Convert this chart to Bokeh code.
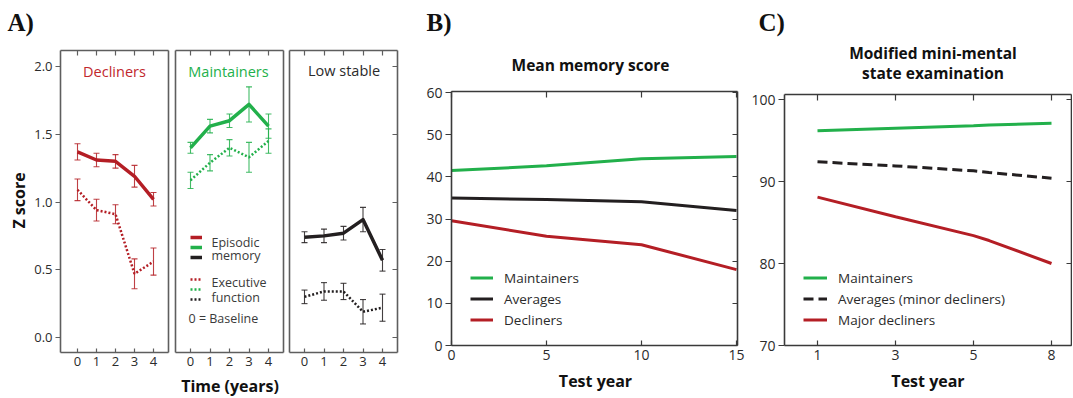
import math
from bokeh.plotting import figure
from bokeh.models import (ColumnDataSource, LinearAxis, FixedTicker, Whisker, TeeHead,
                          Label, Legend, LegendItem, Range1d)
from bokeh.embed import file_html
from bokeh.resources import INLINE

# ---------------- data ----------------
# Panel A: Z scores by time (years)
years_a = [0, 1, 2, 3, 4]
a_xtick_labels = ["0", "1", "2", "3", "4"]
a_yticks = [0.0, 0.5, 1.0, 1.5, 2.0]
a_ytick_labels = ["0.0", "0.5", "1.0", "1.5", "2.0"]
decl_mem = [1.37, 1.31, 1.30, 1.19, 1.02]
decl_mem_err = [0.06, 0.05, 0.05, 0.08, 0.05]
decl_exe = [1.09, 0.94, 0.91, 0.47, 0.56]
decl_exe_err = [0.08, 0.08, 0.07, 0.11, 0.10]
main_mem = [1.40, 1.56, 1.60, 1.72, 1.56]
main_mem_err = [0.04, 0.05, 0.05, 0.13, 0.09]
main_exe = [1.16, 1.29, 1.40, 1.33, 1.45]
main_exe_err = [0.06, 0.06, 0.06, 0.11, 0.09]
low_mem = [0.74, 0.75, 0.77, 0.87, 0.57]
low_mem_err = [0.04, 0.05, 0.05, 0.09, 0.08]
low_exe = [0.30, 0.34, 0.34, 0.19, 0.22]
low_exe_err = [0.05, 0.065, 0.06, 0.09, 0.10]

# Panel B: mean memory score
years_b = [0, 5, 10, 15]
b_yticks = [0, 10, 20, 30, 40, 50, 60]
b_maint = [41.5, 42.6, 44.3, 44.8]
b_avg = [35.0, 34.6, 34.1, 32.0]
b_decl = [29.6, 25.9, 23.9, 18.0]

# Panel C: modified mini-mental state examination
c_pos = [1, 3, 5, 5.4, 7]
c_tick_pos = [1, 3, 5, 7]
c_tick_labels = ["1", "3", "5", "8"]
c_yticks = [70, 80, 90, 100]
c_maint = [96.2, 96.5, 96.8, 96.9, 97.1]
c_avg = [92.4, 91.9, 91.3, 91.1, 90.4]
c_major = [88.1, 85.7, 83.4, 82.8, 80.0]

# ---------------- style / geometry ----------------
RED = "#b41e25"
GREEN = "#22b04b"
BLACK = "#231f20"
FRAME_A = "#5e5e5e"
FRAME_BC = "#3a3a3a"
TXT = "#2b2b2b"
DARK = "#111111"
FONT = "Open Sans"
W, H = 1072, 398


def lin(p0, v0, p1, v1):
    s = (v1 - v0) / (p1 - p0)
    return lambda px: v0 + (px - p0) * s


# pixel calibration of each panel: (pixel, value) pairs
fx = {"a1": lin(77, 0, 153, 4), "a2": lin(190, 0, 268, 4), "a3": lin(304, 0, 382, 4),
      "b": lin(451, 0, 736, 15), "c": lin(817, 1, 1051, 7)}
fy = {"a": lin(337, 0.0, 66, 2.0), "b": lin(345, 0, 92, 60), "c": lin(345, 70, 99, 100)}
# panel boxes in pixels: left, right, top, bottom
boxes = {"a1": (60, 168, 50, 352), "a2": (175, 283, 50, 352), "a3": (289, 397, 50, 352),
         "b": (451, 737, 91, 345), "c": (784, 1071, 94, 345)}

p = figure(width=W, height=H, x_range=Range1d(0, W), y_range=Range1d(0, H),
           x_axis_type=None, y_axis_type=None, output_backend="svg",
           toolbar_location=None, min_border=0, title=None)
p.outline_line_color = None
p.background_fill_color = "white"
p.border_fill_color = "white"
p.extra_x_ranges = {k: Range1d(f(0), f(W)) for k, f in fx.items()}
p.extra_y_ranges = {k: Range1d(f(H), f(0)) for k, f in fy.items()}


def axis(side, xr, yr, ticks, labels=None, tin=0, tout=0, color=FRAME_A, size="13px",
         standoff=4):
    l, r, t, b = boxes[xr]
    if side in ("below", "above"):
        loc = fy[yr](b if side == "below" else t)
        bounds = (fx[xr](l), fx[xr](r))
    else:
        loc = fx[xr](l if side == "left" else r)
        bounds = (fy[yr](b), fy[yr](t))
    ax = LinearAxis(ticker=FixedTicker(ticks=ticks), x_range_name=xr, y_range_name=yr,
                    fixed_location=loc, bounds=bounds)
    ax.major_tick_in = tin
    ax.major_tick_out = tout
    ax.minor_tick_line_color = None
    ax.axis_line_color = color
    ax.axis_line_width = 1.6
    ax.major_tick_line_color = color
    ax.major_tick_line_width = 1.2
    if labels is None:
        ax.major_label_text_font_size = "0px"
        ax.major_label_standoff = 0
        ax.major_label_overrides = {t_: "" for t_ in ticks}
    else:
        ax.major_label_overrides = {t_: l_ for t_, l_ in zip(ticks, labels)}
        ax.major_label_text_font = FONT
        ax.major_label_text_font_size = size
        ax.major_label_text_color = TXT
        ax.major_label_standoff = standoff
    p.add_layout(ax, side)


def label(x, y, text, size="13px", color=TXT, bold=False, align="left", angle=0.0, font=FONT):
    p.add_layout(Label(x=x, y=H - y, x_units="screen", y_units="screen", text=text,
                       text_font=font, text_font_size=size, text_color=color,
                       text_font_style="bold" if bold else "normal",
                       text_align=align, text_baseline="middle", angle=angle))


def series(xr, y, err, color, dashed):
    src = ColumnDataSource(dict(x=years_a, y=y,
                                lo=[v - e for v, e in zip(y, err)],
                                hi=[v + e for v, e in zip(y, err)]))
    if dashed:
        r = p.line("x", "y", source=src, line_color=color, line_width=2.5, line_dash="2 2",
                   x_range_name=xr, y_range_name="a")
    else:
        r = p.line("x", "y", source=src, line_color=color, line_width=3.5, line_join="round",
                   x_range_name=xr, y_range_name="a")
    w = Whisker(base="x", lower="lo", upper="hi", source=src, line_color=color,
                line_width=1.1, line_alpha=0.85, x_range_name=xr, y_range_name="a",
                upper_head=TeeHead(size=6, line_color=color, line_width=1.1, line_alpha=0.85),
                lower_head=TeeHead(size=6, line_color=color, line_width=1.1, line_alpha=0.85))
    p.add_layout(w)
    return r


# ---------------- Panel A ----------------
for k in ("a1", "a2", "a3"):
    axis("below", k, "a", years_a, a_xtick_labels, tin=4, standoff=4)
    axis("above", k, "a", years_a, None, tin=5)
axis("left", "a1", "a", a_yticks, a_ytick_labels, tout=5, standoff=3)
axis("right", "a1", "a", [], None)
axis("left", "a2", "a", [], None)
axis("right", "a2", "a", [], None)
axis("left", "a3", "a", [], None)
axis("right", "a3", "a", a_yticks, None, tin=5)

r_de = series("a1", decl_exe, decl_exe_err, RED, True)
r_dm = series("a1", decl_mem, decl_mem_err, RED, False)
r_me = series("a2", main_exe, main_exe_err, GREEN, True)
r_mm = series("a2", main_mem, main_mem_err, GREEN, False)
r_le = series("a3", low_exe, low_exe_err, BLACK, True)
r_lm = series("a3", low_mem, low_mem_err, BLACK, False)

for items, loc in (([r_dm, r_mm, r_lm], (190, 136)), ([r_de, r_me, r_le], (190, 94))):
    lg = Legend(items=[LegendItem(label=" ", renderers=[r]) for r in items], location=loc,
                glyph_width=12, glyph_height=10, spacing=0, padding=0, margin=0,
                label_standoff=0, label_width=0, label_height=0, label_text_font_size="1px",
                border_line_color=None, background_fill_alpha=0)
    p.add_layout(lg, "center")

label(7, 22, "A)", size="25px", color=DARK, bold=True, font="Liberation Serif")
label(18, 200, "Z score", size="16px", color=DARK, bold=True, align="center",
      angle=math.pi / 2)
label(114, 71, "Decliners", size="14.5px", color="#c1272d", align="center")
label(228, 71, "Maintainers", size="14.5px", color=GREEN, align="center")
label(343.5, 70, "Low stable", size="14.5px", color=TXT, align="center")
label(229.5, 385, "Time (years)", size="16px", color=DARK, bold=True, align="center")
label(211, 241.5, "Episodic", size="12.5px", color="#3a3a3a")
label(211, 255, "memory", size="12.5px", color="#3a3a3a")
label(211, 281.5, "Executive", size="12.5px", color="#3a3a3a")
label(211, 296.5, "function", size="12.5px", color="#3a3a3a")
label(188, 318, "0 = Baseline", size="12.5px", color="#3a3a3a")

# ---------------- Panel B ----------------
axis("left", "b", "b", b_yticks, [str(v) for v in b_yticks], tout=6, color=FRAME_BC,
     size="14px", standoff=3)
axis("below", "b", "b", years_b, [str(v) for v in years_b], tin=5, color=FRAME_BC,
     size="14px", standoff=4)
axis("above", "b", "b", years_b, None, tin=6, color=FRAME_BC)
axis("right", "b", "b", b_yticks, None, tin=5, color=FRAME_BC)
rb1 = p.line(years_b, b_maint, line_color=GREEN, line_width=3, x_range_name="b", y_range_name="b")
rb2 = p.line(years_b, b_avg, line_color=BLACK, line_width=3, x_range_name="b", y_range_name="b")
rb3 = p.line(years_b, b_decl, line_color=RED, line_width=3, x_range_name="b", y_range_name="b")
lgb = Legend(items=[LegendItem(label="Maintainers", renderers=[rb1]),
                    LegendItem(label="Averages", renderers=[rb2]),
                    LegendItem(label="Decliners", renderers=[rb3])],
             location=(470, 68), glyph_width=23, glyph_height=21, label_height=21,
             spacing=0, padding=0, margin=0, label_standoff=11,
             label_text_font=FONT, label_text_font_size="13.5px", label_text_color=TXT,
             border_line_color=None, background_fill_alpha=0)
p.add_layout(lgb, "center")
label(426, 22, "B)", size="25px", color=DARK, bold=True, font="Liberation Serif")
label(590, 64.5, "Mean memory score", size="15.5px", color=DARK, bold=True, align="center")
label(595, 380, "Test year", size="16px", color=DARK, bold=True, align="center")

# ---------------- Panel C ----------------
axis("left", "c", "c", c_yticks, [str(v) for v in c_yticks], tout=6, color=FRAME_BC,
     size="14px", standoff=3)
axis("below", "c", "c", c_tick_pos, c_tick_labels, tin=5, color=FRAME_BC, size="14px",
     standoff=4)
axis("above", "c", "c", c_tick_pos, None, tin=6, color=FRAME_BC)
axis("right", "c", "c", c_yticks, None, tin=5, color=FRAME_BC)
rc1 = p.line(c_pos, c_maint, line_color=GREEN, line_width=3, x_range_name="c", y_range_name="c")
rc2 = p.line(c_pos, c_avg, line_color=BLACK, line_width=3, line_dash="10 5",
             x_range_name="c", y_range_name="c")
rc3 = p.line(c_pos, c_major, line_color=RED, line_width=3, x_range_name="c", y_range_name="c")
lgc = Legend(items=[LegendItem(label="Maintainers", renderers=[rc1]),
                    LegendItem(label="Averages (minor decliners)", renderers=[rc2]),
                    LegendItem(label="Major decliners", renderers=[rc3])],
             location=(803, 68), glyph_width=24, glyph_height=21, label_height=21,
             spacing=0, padding=0, margin=0, label_standoff=11,
             label_text_font=FONT, label_text_font_size="13.5px", label_text_color=TXT,
             border_line_color=None, background_fill_alpha=0)
p.add_layout(lgc, "center")
label(758, 22, "C)", size="25px", color=DARK, bold=True, font="Liberation Serif")
label(932.5, 52, "Modified mini-mental", size="15.5px", color=DARK, bold=True, align="center")
label(932.5, 72, "state examination", size="15.5px", color=DARK, bold=True, align="center")
label(927.5, 380, "Test year", size="16px", color=DARK, bold=True, align="center")

open("out.html", "w").write(file_html(p, INLINE))
